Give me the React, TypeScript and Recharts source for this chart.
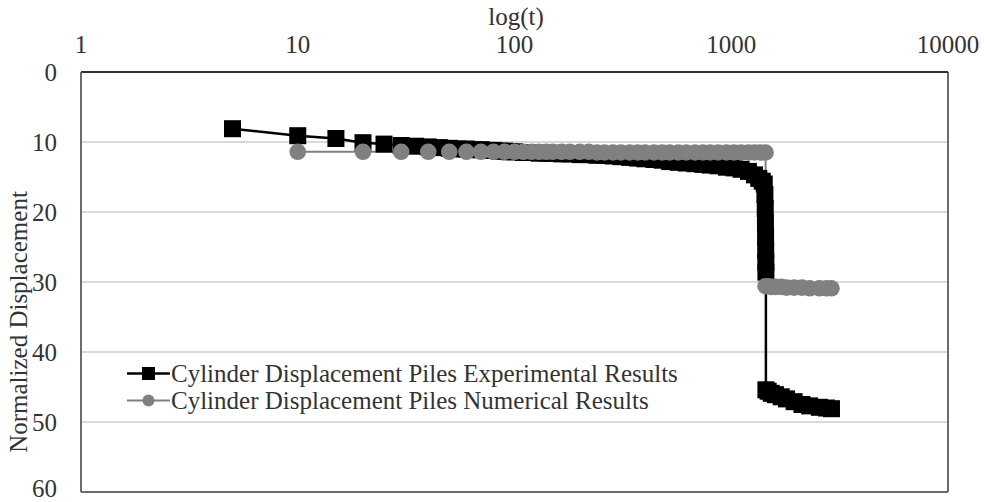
import React from "react";
import {
  LineChart,
  Line,
  XAxis,
  YAxis,
  CartesianGrid,
  ReferenceLine,
} from "recharts";

const FONT = "Liberation Serif";

const xTicks = [1, 10, 100, 1000, 10000];
const yTicks = [0, 10, 20, 30, 40, 50, 60];

// experimental results (time in s, normalized displacement)
const expTime = [
  5, 10, 15, 20, 25, 30, 35, 40, 45, 50, 55, 60, 65, 70, 75, 80, 85, 90, 95, 100,
  110, 120, 130, 140, 150, 165, 180, 200, 220, 240, 260, 285, 310, 340, 370, 400,
  440, 480, 520, 570, 620, 680, 740, 800, 870, 950, 1030, 1110, 1200, 1280,
  1340, 1390, 1420, 1430, 1435, 1438, 1440, 1442, 1444, 1445,
  1445, 1480, 1530, 1600, 1700, 1800, 1950, 2120, 2300, 2550, 2750, 2900,
];
const expDisp = [
  8.1, 9.1, 9.5, 10.1, 10.3, 10.5, 10.6, 10.7, 10.8, 10.9, 11.0, 11.0, 11.1, 11.1, 11.2, 11.2, 11.3, 11.3, 11.4, 11.4,
  11.5, 11.5, 11.6, 11.6, 11.6, 11.7, 11.7, 11.8, 11.8, 11.9, 11.9, 12.0, 12.1, 12.2, 12.3, 12.4,
  12.5, 12.6, 12.8, 12.9, 13.0, 13.1, 13.2, 13.3, 13.4, 13.6, 13.7, 13.9, 14.2, 14.7,
  15.2, 15.6, 16.0, 17.5, 19.5, 21.5, 23.5, 25.5, 27.2, 28.6,
  45.4, 45.6, 45.9, 46.1, 46.4, 46.7, 47.1, 47.5, 47.7, 47.9, 48.0, 48.1,
];

// numerical results
const numTime = [
  10, 20, 30, 40, 50, 60, 70, 80, 90, 100,
  110, 120, 130, 140, 150, 165, 180, 200, 220, 240, 260, 285, 310, 340, 370, 400,
  440, 480, 520, 570, 620, 680, 740, 800, 870, 950, 1030, 1110, 1200, 1280,
  1360, 1440,
  1440, 1480, 1530, 1600, 1700, 1800, 1950, 2120, 2300, 2550, 2750, 2900,
];
const numDisp = [
  11.4, 11.4, 11.4, 11.4, 11.4, 11.4, 11.4, 11.4, 11.4, 11.4,
  11.4, 11.4, 11.4, 11.4, 11.4, 11.4, 11.4, 11.4, 11.4, 11.5, 11.5, 11.5, 11.5, 11.5, 11.5, 11.5,
  11.5, 11.5, 11.5, 11.5, 11.5, 11.5, 11.5, 11.5, 11.5, 11.5, 11.5, 11.5, 11.5, 11.5,
  11.5, 11.5,
  30.6, 30.6, 30.7, 30.7, 30.7, 30.8, 30.8, 30.8, 30.9, 30.9, 30.9, 30.9,
];

const expName = "Cylinder Displacement Piles Experimental Results";
const numName = "Cylinder Displacement Piles Numerical Results";

const expData = expTime.map((t, i) => ({ t, d: expDisp[i] }));
const numData = numTime.map((t, i) => ({ t, d: numDisp[i] }));

const SquareDot = (props: any) => {
  const { cx, cy, index } = props;
  if (cx == null || cy == null) return null;
  return <rect key={`sq-${index}`} x={cx - 8.5} y={cy - 8.5} width={17} height={17} fill="#000" />;
};

const XTitle = () => (
  <text x={516} y={25} textAnchor="middle" fontFamily={FONT} fontSize={25} fill="#333">
    log(t)
  </text>
);

const YTitle = () => (
  <text
    x={27}
    y={322}
    transform="rotate(-90 27 322)"
    textAnchor="middle"
    fontFamily={FONT}
    fontSize={25}
    fill="#333"
  >
    Normalized Displacement
  </text>
);

const LegendBox = () => (
  <div
    style={{
      position: "absolute",
      left: 125,
      top: 360,
      fontFamily: FONT,
      fontSize: 25,
      color: "#333",
      lineHeight: "27px",
      whiteSpace: "nowrap",
    }}
  >
    <div style={{ display: "flex", alignItems: "center", height: 27 }}>
      <svg width={46} height={27}>
        <line x1={2} x2={45} y1={13.5} y2={13.5} stroke="#000" strokeWidth={2.5} />
        <rect x={17} y={7} width={13} height={13} fill="#000" />
      </svg>
      <span>{expName}</span>
    </div>
    <div style={{ display: "flex", alignItems: "center", height: 27 }}>
      <svg width={46} height={27}>
        <line x1={2} x2={45} y1={13.5} y2={13.5} stroke="#808080" strokeWidth={2} />
        <circle cx={23.5} cy={13.5} r={6} fill="#808080" />
      </svg>
      <span>{numName}</span>
    </div>
  </div>
);

export default function App() {
  return (
    <div style={{ position: "absolute", left: 0, top: 0, width: 984, height: 502, background: "#fff" }}>
      <LineChart width={984} height={502} margin={{ top: 42, right: 36, bottom: 10, left: 40 }}>
        <CartesianGrid horizontal vertical={false} stroke="#d9d9d9" strokeWidth={2} />
        <XAxis
          dataKey="t"
          type="number"
          scale="log"
          domain={[1, 10000]}
          ticks={xTicks}
          allowDataOverflow
          orientation="top"
          height={30}
          axisLine={{ stroke: "#333", strokeWidth: 2 }}
          tickLine={false}
          tickSize={0}
          tickMargin={19}
          tick={{ fill: "#333", fontSize: 25, fontFamily: FONT }}
          label={<XTitle />}
        />
        <YAxis
          type="number"
          domain={[0, 60]}
          ticks={yTicks}
          reversed
          width={41}
          axisLine={{ stroke: "#6b6b6b", strokeWidth: 2 }}
          tickLine={false}
          tickSize={0}
          tickMargin={24}
          tick={{ fill: "#333", fontSize: 25, fontFamily: FONT }}
          label={<YTitle />}
        />
        <ReferenceLine y={60} stroke="#6b6b6b" strokeWidth={2} />
        <ReferenceLine x={10000} stroke="#6b6b6b" strokeWidth={2} />
        <Line
          data={expData}
          dataKey="d"
          name={expName}
          stroke="#000"
          strokeWidth={2.5}
          dot={SquareDot}
          activeDot={false}
          isAnimationActive={false}
        />
        <Line
          data={numData}
          dataKey="d"
          name={numName}
          stroke="#808080"
          strokeWidth={2}
          dot={{ r: 8.3, fill: "#808080", stroke: "none" }}
          activeDot={false}
          isAnimationActive={false}
        />
      </LineChart>
      <LegendBox />
    </div>
  );
}
